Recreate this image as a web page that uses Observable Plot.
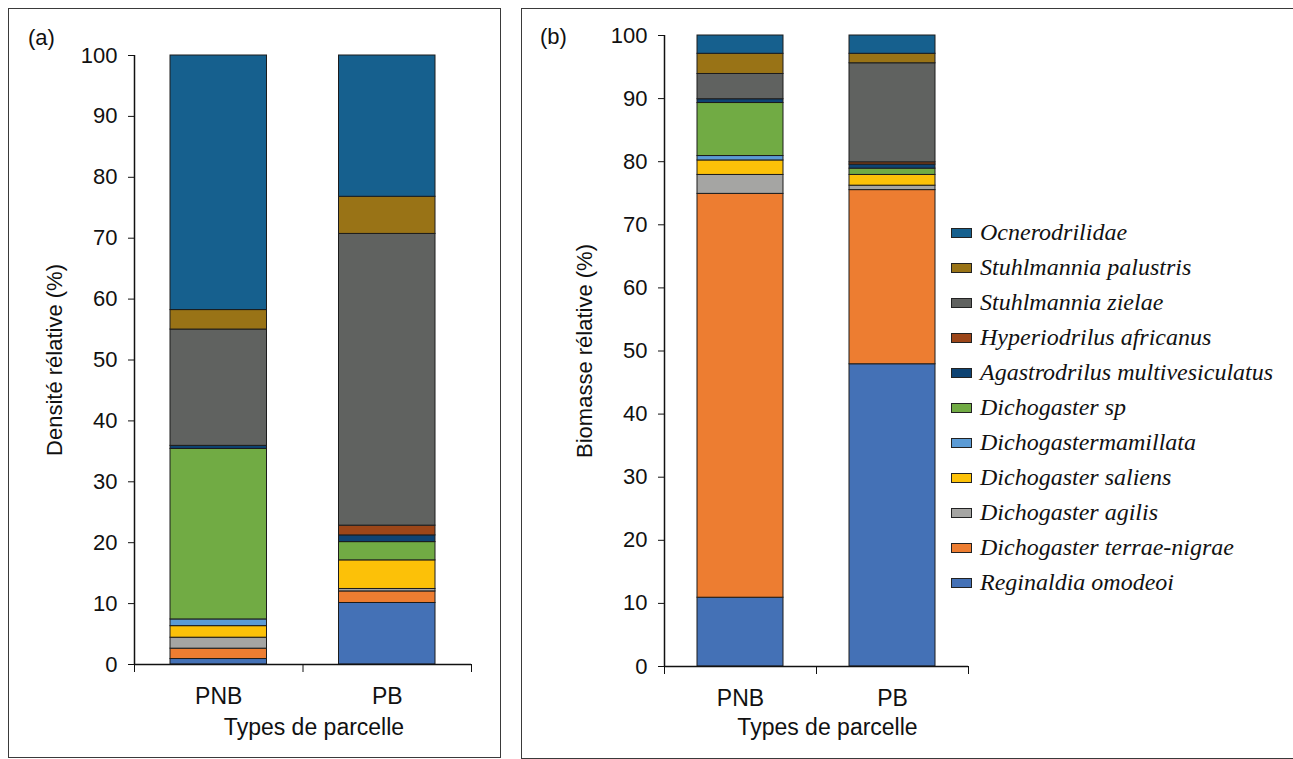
<!DOCTYPE html>
<html><head><meta charset="utf-8">
<script src="https://cdn.jsdelivr.net/npm/d3@7"></script>
<script src="https://cdn.jsdelivr.net/npm/@observablehq/plot@0.6"></script>
<style>
body{margin:0;background:#fff;}
#root{position:relative;width:1293px;height:759px;overflow:hidden;font-family:"Liberation Sans",Arial,sans-serif;background:#fff;}
.panel{position:absolute;border:1px solid #3a3a3a;box-sizing:border-box;}
.plot{position:absolute;top:0;}
.tag{position:absolute;font-size:22px;color:#111;line-height:1;}
#legend{position:absolute;left:951px;top:215px;font-family:"Liberation Serif","Times New Roman",serif;font-style:italic;font-size:24px;color:#111;}
.row{display:flex;align-items:center;height:35px;white-space:nowrap;}
.sw{width:21px;height:10px;border:1px solid #222;box-sizing:border-box;margin-right:8px;flex:none;}
</style>
</head>
<body>
<div id="root">
  <div class="panel" style="left:8px;top:8px;width:493px;height:750px;"></div>
  <div class="panel" style="left:521px;top:8px;width:800px;height:751px;"></div>
  <div class="tag" style="left:28px;top:27px;">(a)</div>
  <div class="tag" style="left:540px;top:26px;">(b)</div>
  <div id="legend"></div>
</div>
<script>
// Categories (plot types)
const categories = ["PNB", "PB"];
// Species, stacked from bottom to top
const species = [
  "Reginaldia omodeoi",
  "Dichogaster terrae-nigrae",
  "Dichogaster agilis",
  "Dichogaster saliens",
  "Dichogastermamillata",
  "Dichogaster sp",
  "Agastrodrilus multivesiculatus",
  "Hyperiodrilus africanus",
  "Stuhlmannia zielae",
  "Stuhlmannia palustris",
  "Ocnerodrilidae"
];
const colors = ["#4471B6", "#ED7D31", "#A5A5A3", "#FCC108", "#5B9BD5", "#71AB44", "#0E4373", "#9C4619", "#606260", "#997316", "#16608E"];

// (a) Densité rélative (%)
const densityPNB = [0.9, 1.7, 1.8, 1.9, 1.1, 28.0, 0.5, 0, 19.1, 3.2, 41.8];
const densityPB  = [10.1, 1.9, 0.4, 4.7, 0, 3.0, 1.1, 1.6, 47.9, 6.1, 23.2];
// (b) Biomasse rélative (%)
const biomassPNB = [10.9, 64.0, 3.0, 2.3, 0.7, 8.4, 0.6, 0, 4.0, 3.2, 2.9];
const biomassPB  = [47.9, 27.6, 0.7, 1.7, 0, 1.0, 0.65, 0.35, 15.7, 1.5, 2.9];

const yTicks = d3.range(0, 101, 10);
const xTitle = "Types de parcelle";

function makePanel(series, o) {
  const rows = [];
  categories.forEach((c, i) => species.forEach((s, j) => {
    const v = series[i][j];
    if (v > 0) rows.push({i, cat: c, species: s, value: v});
  }));
  return Plot.plot({
    width: o.width, height: 759,
    marginLeft: o.ml, marginRight: o.mr, marginTop: o.mt, marginBottom: o.mb,
    style: {fontFamily: "Liberation Sans, Arial, sans-serif", fontSize: "22px", color: "#111", background: "transparent", overflow: "visible"},
    x: {domain: [0, categories.length]},
    y: {domain: [0, 100]},
    color: {domain: species, range: colors},
    marks: [
      Plot.rectY(rows, {x1: "i", x2: d => d.i + 1, y: "value", fill: "species", stroke: "#1c1c1c", strokeWidth: 1, insetLeft: o.inset, insetRight: o.inset}),
      Plot.ruleX([0], {stroke: "#111", strokeWidth: 1.5}),
      Plot.ruleY([0], {stroke: "#111", strokeWidth: 1.5}),
      Plot.axisY({ticks: yTicks, tickSize: 6, tickPadding: 11, fontSize: 22, label: o.ylabel, labelAnchor: "center", labelOffset: 88, labelArrow: "none"}),
      Plot.axisX({ticks: d3.range(0, categories.length + 1), tickSize: 8, tickFormat: () => "", label: null}),
      Plot.axisX({ticks: categories.map((c, i) => i + 0.5), tickSize: 0, tickPadding: 23, fontSize: 23,
        tickFormat: d => categories[Math.floor(d)], label: null}),
      Plot.text([xTitle], {text: d => d, frameAnchor: "bottom", lineAnchor: "bottom", textAnchor: "middle", dx: o.tdx, dy: o.tdy, fontSize: 23, fill: "#111"})
    ]
  });
}

const root = document.getElementById("root");
const pa = makePanel([densityPNB, densityPB], {width: 510, ml: 134, mr: 39, mt: 55, mb: 95, inset: 36, tdx: 11, tdy: 70, ylabel: "Densité rélative (%)"});
pa.classList.add("plot"); pa.style.left = "0px";
root.appendChild(pa);
const pb = makePanel([biomassPNB, biomassPB], {width: 479, ml: 143, mr: 32, mt: 35, mb: 93, inset: 33, tdx: 11, tdy: 68, ylabel: "Biomasse rélative (%)"});
pb.classList.add("plot"); pb.style.left = "521px";
root.appendChild(pb);

// Legend (top to bottom = reverse stack order)
const legend = document.getElementById("legend");
species.map((s, j) => ({s, c: colors[j]})).reverse().forEach(({s, c}) => {
  const row = document.createElement("div");
  row.className = "row";
  const sw = document.createElement("span");
  sw.className = "sw"; sw.style.background = c;
  const t = document.createElement("span");
  t.textContent = s;
  row.appendChild(sw); row.appendChild(t);
  legend.appendChild(row);
});
</script>
</body></html>
